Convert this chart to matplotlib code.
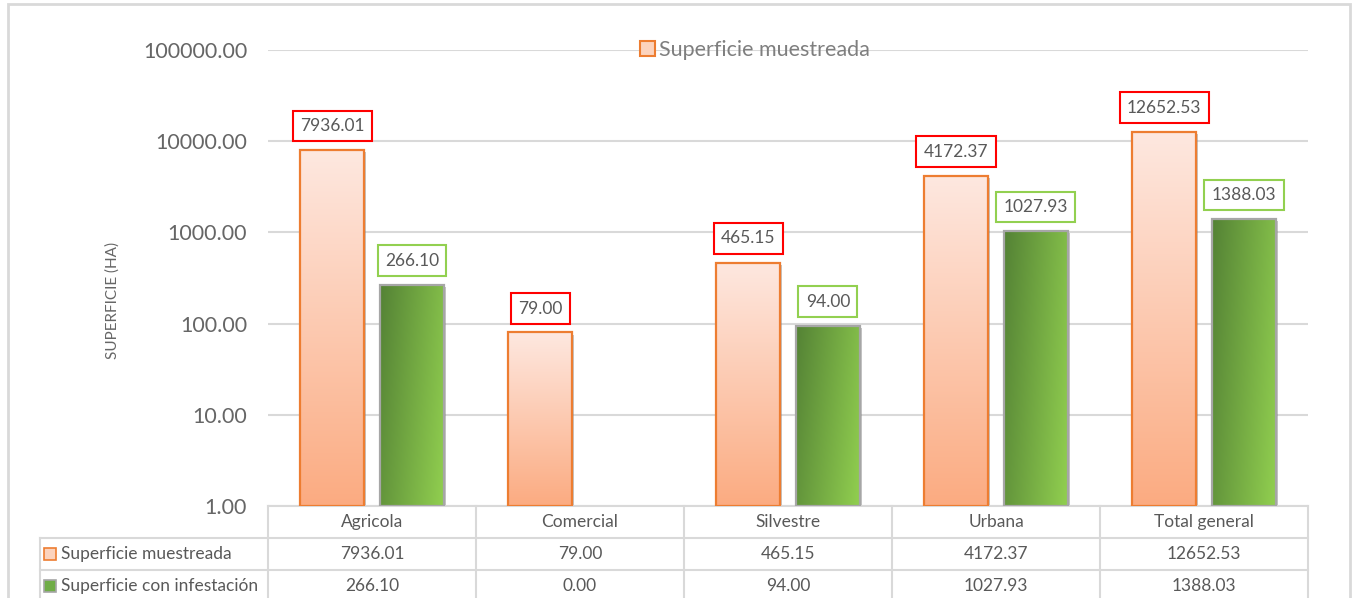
import numpy as np
import matplotlib
matplotlib.use("Agg")
import matplotlib.pyplot as plt
from matplotlib.patches import Patch, Rectangle
from matplotlib.lines import Line2D
import matplotlib.patheffects as pe
import matplotlib.transforms as mtransforms

categories = ["Agricola", "Comercial", "Silvestre", "Urbana", "Total general"]
muestreada = [7936.01, 79.00, 465.15, 4172.37, 12652.53]
infestacion = [266.10, 0.00, 94.00, 1027.93, 1388.03]
series_names = ["Superficie muestreada", "Superficie con infestación"]
yticks = [1, 10, 100, 1000, 10000, 100000]
ytick_labels = ["1.00", "10.00", "100.00", "1000.00", "10000.00", "100000.00"]

FONT = "Lato"
plt.rcParams["font.family"] = [FONT, "DejaVu Sans"]
TXT = "#595959"
GRID = "#d9d9d9"
ORANGE_EDGE = "#ed7d31"

W, H = 1354, 598
fig = plt.figure(figsize=(W / 100, H / 100), dpi=100)
ax = fig.add_axes([268 / W, 1 - 506 / H, 1040 / W, 456 / H])
ax.set_yscale("log")
x = np.arange(len(categories))
bw = 0.308
off = 0.192

# outer border
fig.patches.append(Rectangle((8 / W, -0.1), (1350 - 8) / W, 1 + 0.1 - 4 / H,
                             transform=fig.transFigure, fill=False,
                             edgecolor=GRID, lw=2, zorder=0))

def grad_orange(n=256):
    t = np.linspace(0, 1, n)[:, None]
    top = np.array([254, 232, 224]) / 255
    bot = np.array([251, 171, 129]) / 255
    img = top[None, :] * (1 - t) + bot[None, :] * t
    return img[:, None, :].repeat(2, axis=1)

def grad_green(n=256, m=64):
    yy, xx = np.mgrid[0:n, 0:m]
    u = 0.75 * xx / (m - 1) + 0.25 * yy / (n - 1)
    u = u[..., None]
    c0 = np.array([84, 130, 53]) / 255
    c1 = np.array([146, 208, 80]) / 255
    return c0 * (1 - u) + c1 * u

to_axes = ax.transData + ax.transAxes.inverted()

def draw_bars(xs, vals, edge):
    shadow = ax.bar(xs, vals, width=bw, bottom=1, color="white", edgecolor="none", zorder=2)
    outl = ax.bar(xs, vals, width=bw, bottom=1, facecolor="none", edgecolor=edge, lw=1.6, zorder=4)
    for s, o, v in zip(shadow, outl, vals):
        if v <= 0:
            s.set_visible(False)
            o.set_visible(False)
    return shadow, outl

ax.set_xlim(-0.5, len(categories) - 0.5)
ax.set_ylim(1, 100000)

bars_o = draw_bars(x - off, muestreada, ORANGE_EDGE)
bars_g = draw_bars(x + off, infestacion, "#a6a6a6")

for shadow in (bars_o[0], bars_g[0]):
    for p in shadow:
        p.set_path_effects([pe.SimplePatchShadow(offset=(1.5, -1.5), shadow_rgbFace="#7f7f7f", alpha=0.45),
                            pe.Normal()])

def fill_grad(bars, gradfn):
    for p in bars:
        if not p.get_visible():
            continue
        x0, y0 = p.get_x(), p.get_y()
        x1, y1 = x0 + p.get_width(), y0 + p.get_height()
        (ax0, ay0), (ax1, ay1) = to_axes.transform([(x0, y0), (x1, y1)])
        im = ax.imshow(gradfn(), extent=[ax0, ax1, ay0, ay1], origin="upper",
                       transform=ax.transAxes, aspect="auto", zorder=3, interpolation="bilinear")
        im.set_clip_path(p)

fill_grad(bars_o[1], grad_orange)
fill_grad(bars_g[1], grad_green)
ax.set_xlim(-0.5, len(categories) - 0.5)
ax.set_ylim(1, 100000)

# labels
for xs, vals, ec in ((x - off, muestreada, "red"), (x + off, infestacion, "#92d050")):
    for xi, v in zip(xs, vals):
        if v <= 0:
            continue
        ax.annotate(f"{v:.2f}", (xi, v), xytext=(0, 17.5), textcoords="offset points",
                    ha="center", va="center", fontsize=12.5, color=TXT, zorder=6,
                    bbox=dict(boxstyle="square,pad=0.42", fc="white", ec=ec, lw=1.5))

# axes styling
ax.set_yticks(yticks)
ax.set_yticklabels(ytick_labels)
ax.yaxis.set_minor_locator(matplotlib.ticker.NullLocator())
ax.tick_params(axis="y", length=0, pad=15, labelsize=15.5, labelcolor="#666666")
ax.set_xticks([])
for s in ax.spines.values():
    s.set_visible(False)
ax.grid(axis="y", color=GRID, lw=1.5, zorder=0)
ax.set_axisbelow(True)
ax.set_ylabel("SUPERFICIE (HA)", fontsize=11, color="#666666", labelpad=0)
ax.yaxis.set_label_coords((120 - 268) / 1040, 0.45)

# legend
leg = ax.legend(handles=[Patch(facecolor="#fcd3bd", edgecolor=ORANGE_EDGE, lw=1.5)],
                labels=[series_names[0]], loc="center", bbox_to_anchor=(0.468, 1.0),
                frameon=False, fontsize=15.5, handlelength=0.7, handleheight=0.7,
                handletextpad=0.2, labelcolor="#7f7f7f")

# data table
tb = mtransforms.blended_transform_factory(ax.transData, ax.transAxes)
rh = 32 / 456
left_ax = (40 - 268) / 1040
ta = ax.transAxes
lines = []
lines.append(Line2D([0, 1], [0, 0], transform=ta))
lines.append(Line2D([left_ax, 1], [-rh, -rh], transform=ta))
lines.append(Line2D([left_ax, 1], [-2 * rh, -2 * rh], transform=ta))
lines.append(Line2D([left_ax, 1], [-3 * rh, -3 * rh], transform=ta))
for b in np.append(x - 0.5, x[-1] + 0.5):
    lines.append(Line2D([b, b], [0, -3 * rh], transform=tb))
lines.append(Line2D([left_ax, left_ax], [-rh, -3 * rh], transform=ta))
for ln in lines:
    ln.set_color(GRID)
    ln.set_linewidth(1.5)
    ln.set_clip_on(False)
    ax.add_line(ln)

TFS = 12.5
for xi, c in zip(x, categories):
    ax.text(xi, -0.5 * rh, c, transform=tb, ha="center", va="center", fontsize=TFS, color=TXT, clip_on=False)
for r, (vals, name, fc, ec) in enumerate(((muestreada, series_names[0], "#fcd3bd", ORANGE_EDGE),
                                            (infestacion, series_names[1], "#70ad47", "#a6a6a6"))):
    yc = -(1.5 + r) * rh
    for xi, v in zip(x, vals):
        ax.text(xi, yc, f"{v:.2f}", transform=tb, ha="center", va="center", fontsize=TFS, color=TXT, clip_on=False)
    ax.add_patch(Rectangle((left_ax + 4 / 1040, yc - 6 / 456), 12 / 1040, 12 / 456, transform=ta,
                           facecolor=fc, edgecolor=ec, lw=1.2, clip_on=False))
    ax.text(left_ax + 21 / 1040, yc, name, transform=ta, ha="left", va="center", fontsize=TFS,
            color=TXT, clip_on=False)

fig.savefig("out.png", dpi=100)
